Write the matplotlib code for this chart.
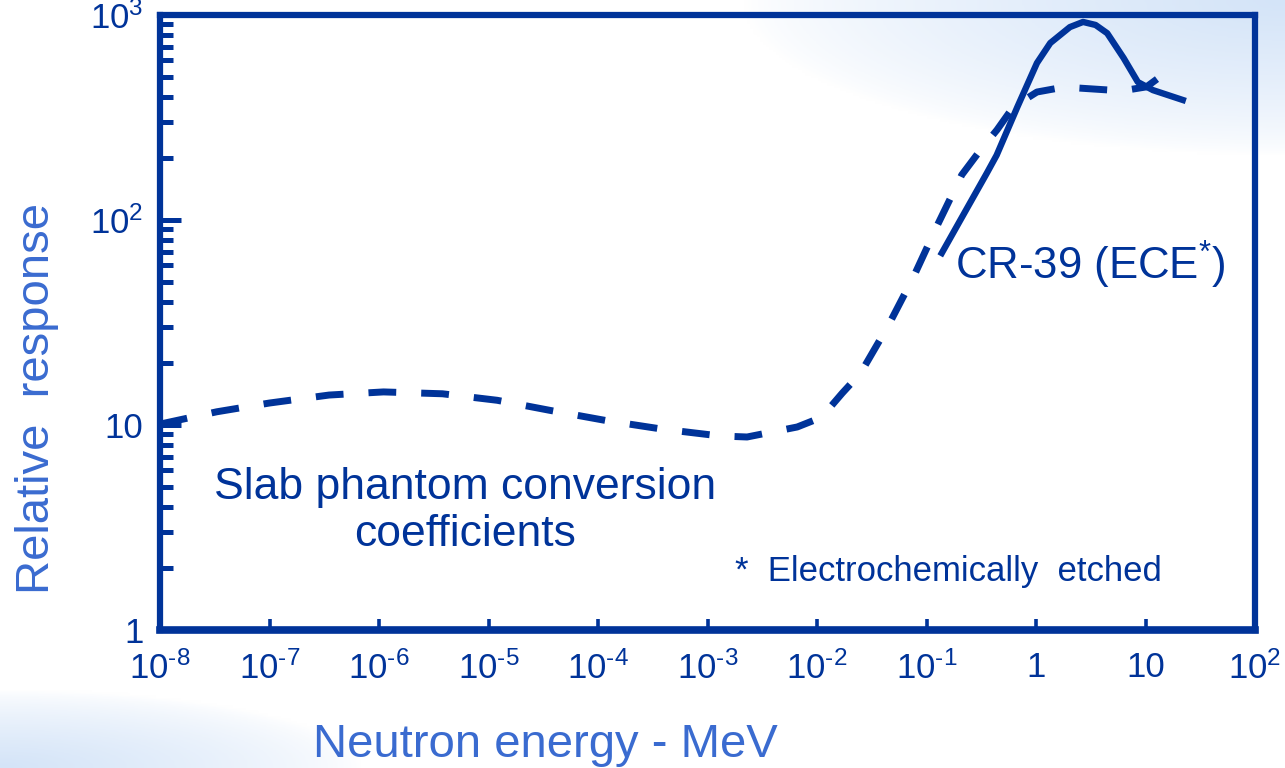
import matplotlib
matplotlib.use('Agg')
import matplotlib.pyplot as plt
from matplotlib import font_manager
from matplotlib.colors import LinearSegmentedColormap
import numpy as np

# Data
slab_energy = [1.0e-8, 3.3e-8, 1.0e-7, 3.5e-7, 1.1e-6, 3.8e-6, 1.2e-5, 3.6e-5, 1.2e-4,
               3.8e-4, 1.3e-3, 2.3e-3, 3.5e-3, 6.6e-3, 1.1e-2, 1.7e-2, 2.5e-2, 4.5e-2,
               7.6e-2, 0.126, 0.21, 0.31, 0.44, 0.62, 1.02, 1.8, 4.5, 6.0, 10.2, 17.4]
slab_response = [10.1, 11.6, 12.8, 14.0, 14.5, 14.2, 13.2, 11.8, 10.5,
                 9.56, 8.84, 8.74, 9.14, 9.78, 10.9, 14.3, 17.9, 30.7,
                 52.7, 94.6, 166, 219, 275, 356, 421, 445, 431, 426, 446, 551]

cr39_energy = [0.138, 0.204, 0.355, 0.437, 0.676, 1.02, 1.35, 2.04, 2.69, 3.5,
               4.47, 6.31, 8.51, 11.7, 21.9]
cr39_response = [69, 100, 169, 207, 356, 583, 730, 873, 925, 894,
                 815, 617, 471, 430, 385]

x_ticks = [1e-8, 1e-7, 1e-6, 1e-5, 1e-4, 1e-3, 1e-2, 1e-1, 1, 10, 1e2]
x_tick_labels = [r'10$^{\text{-8}}$', r'10$^{\text{-7}}$', r'10$^{\text{-6}}$',
                 r'10$^{\text{-5}}$', r'10$^{\text{-4}}$', r'10$^{\text{-3}}$',
                 r'10$^{\text{-2}}$', r'10$^{\text{-1}}$', '1', '10', r'10$^{\text{2}}$']
y_ticks = [1, 10, 100, 1000]
y_tick_labels = ['1', '10', r'10$^{\text{2}}$', r'10$^{\text{3}}$']

dark = '#003399'
light = '#3a6bd0'

# narrow face for the tick labels if there is one
try:
    font_manager.findfont('Liberation Sans Narrow', fallback_to_default=False)
    tick_font = 'Liberation Sans Narrow'
except Exception:
    tick_font = 'Liberation Sans'

plt.rcParams['font.family'] = ['Liberation Sans', 'DejaVu Sans']
plt.rcParams['mathtext.fontset'] = 'custom'
plt.rcParams['mathtext.rm'] = tick_font
plt.rcParams['mathtext.it'] = tick_font
plt.rcParams['mathtext.default'] = 'regular'

fig = plt.figure(figsize=(12.85, 7.68), dpi=100)

# Slide-style background gradient (light blue corners)
bg = fig.add_axes([0, 0, 1, 1], zorder=-10)
u, v = np.meshgrid(np.linspace(0, 1, 400), np.linspace(0, 1, 300))
d1 = np.sqrt(((1 - u) / 0.42) ** 2 + ((1 - v) / 0.2) ** 2)
d2 = np.sqrt((u / 0.28) ** 2 + (v / 0.1) ** 2)
w = np.clip(1 - d1, 0, 1) ** 0.7 + np.clip(1 - d2, 0, 1) ** 0.7
w = np.clip(w, 0, 1)
cmap = LinearSegmentedColormap.from_list('bg', ['#ffffff', '#d4e4f8'])
bg.imshow(w, cmap=cmap, origin='lower', aspect='auto', extent=[0, 1, 0, 1], vmin=0, vmax=1)
bg.axis('off')

ax = fig.add_axes([160 / 1285, 138 / 768, 1095 / 1285, 615 / 768])
ax.set_facecolor('none')

ax.plot(slab_energy, slab_response, color=dark, lw=5, dashes=(4, 3.6), solid_capstyle='butt')
ax.plot(cr39_energy, cr39_response, color=dark, lw=4.6, solid_joinstyle='round')

ax.set_xscale('log')
ax.set_yscale('log')
ax.set_xlim(1e-8, 1e2)
ax.set_ylim(1, 1e3)

ax.set_xticks(x_ticks)
ax.set_xticklabels(x_tick_labels, fontfamily=tick_font)
ax.set_yticks(y_ticks)
ax.set_yticklabels(y_tick_labels, fontfamily=tick_font)

for s in ax.spines.values():
    s.set_color(dark)
    s.set_linewidth(4.5)
ax.spines['bottom'].set_linewidth(5.5)

ax.tick_params(axis='y', which='major', direction='in', length=15, width=3.6,
               color=dark, labelcolor=dark, labelsize=25, pad=12)
ax.tick_params(axis='y', which='minor', direction='in', length=9.5, width=3.6, color=dark)
ax.tick_params(axis='x', which='major', direction='in', length=8, width=2.6,
               color=dark, labelcolor=dark, labelsize=25, pad=15)
ax.tick_params(axis='x', which='minor', direction='in', length=4.5, width=2.2, color=dark)

# Text annotations
fig.text(465 / 1285, 1 - 511 / 768, 'Slab phantom conversion\ncoefficients',
         ha='center', va='center', fontsize=32, color=dark, linespacing=1.2)
fig.text(955 / 1285, 1 - 265 / 768, 'CR-39 (ECE$^{*}$)',
         ha='left', va='center', fontsize=31.5, color=dark)
fig.text(735 / 1285, 1 - 572 / 768, '*  Electrochemically  etched',
         ha='left', va='center', fontsize=25, color=dark)

# Axis labels
fig.text(545 / 1285, 1 - 757 / 768, 'Neutron energy - MeV',
         ha='center', va='baseline', fontsize=34, color=light)
fig.text(37 / 1285, 1 - 398 / 768, 'Relative  response', rotation=90,
         ha='center', va='center', fontsize=34, color=light)

fig.savefig('out.png', dpi=100)
